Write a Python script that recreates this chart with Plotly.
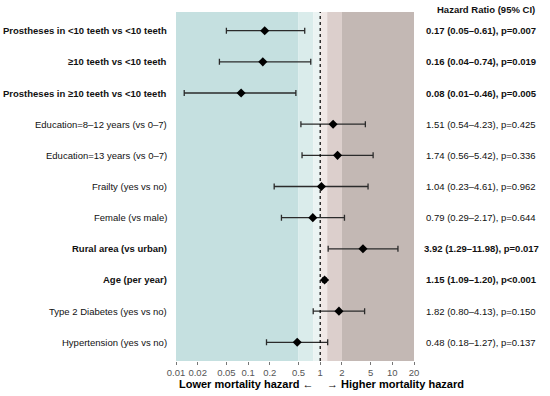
import math
import plotly.graph_objects as go

labels = [
    "Prostheses in <10 teeth vs <10 teeth",
    "≥10 teeth vs <10 teeth",
    "Prostheses in ≥10 teeth vs <10 teeth",
    "Education=8–12 years (vs 0–7)",
    "Education=13 years (vs 0–7)",
    "Frailty (yes vs no)",
    "Female (vs male)",
    "Rural area (vs urban)",
    "Age (per year)",
    "Type 2 Diabetes (yes vs no)",
    "Hypertension (yes vs no)",
]
hr = [0.17, 0.16, 0.08, 1.51, 1.74, 1.04, 0.79, 3.92, 1.15, 1.82, 0.48]
ci_low = [0.05, 0.04, 0.013, 0.54, 0.56, 0.23, 0.29, 1.29, 1.09, 0.80, 0.18]
ci_high = [0.61, 0.74, 0.46, 4.23, 5.42, 4.61, 2.17, 11.98, 1.20, 4.13, 1.27]
significant = [True, True, True, False, False, False, False, True, True, False, False]
hr_text = [
    "0.17 (0.05–0.61), p=0.007",
    "0.16 (0.04–0.74), p=0.019",
    "0.08 (0.01–0.46), p=0.005",
    "1.51 (0.54–4.23), p=0.425",
    "1.74 (0.56–5.42), p=0.336",
    "1.04 (0.23–4.61), p=0.962",
    "0.79 (0.29–2.17), p=0.644",
    "3.92 (1.29–11.98), p=0.017",
    "1.15 (1.09–1.20), p<0.001",
    "1.82 (0.80–4.13), p=0.150",
    "0.48 (0.18–1.27), p=0.137",
]
tick_vals = [0.01, 0.02, 0.05, 0.1, 0.2, 0.5, 1, 2, 5, 10, 20]
tick_text = ["0.01", "0.02", "0.05", "0.1", "0.2", "0.5", "1", "2", "5", "10", "20"]
band_edges = [0.01, 0.5, 0.8, 1, 1.25, 2, 20]
band_colors = ["#c5e0e0", "#daeceb", "#ebf4f3", "#f1e9e7", "#dccfcc", "#c3b8b4"]

rows = list(range(1, len(labels) + 1))
FONT = "Liberation Sans, Arial, sans-serif"

fig = go.Figure()
fig.add_trace(go.Scatter(
    x=hr, y=rows, mode="markers",
    marker=dict(symbol="diamond", size=7, color="black"),
    error_x=dict(type="data", symmetric=False,
                 array=[h - v for h, v in zip(ci_high, hr)],
                 arrayminus=[v - l for v, l in zip(hr, ci_low)],
                 color="#2b2b2b", thickness=1.3, width=3),
    showlegend=False, hoverinfo="skip",
))

shapes = []
for i, c in enumerate(band_colors):
    shapes.append(dict(type="rect", xref="x", yref="paper",
                       x0=band_edges[i], x1=band_edges[i + 1], y0=0, y1=1,
                       fillcolor=c, line=dict(width=0), layer="below"))
shapes.append(dict(type="line", xref="x", yref="paper", x0=1, x1=1, y0=0, y1=1,
                   line=dict(color="black", width=1.2, dash="dot")))

annotations = []
for r, lab, sig, t in zip(rows, labels, significant, hr_text):
    txt = f"<b>{lab}</b>" if sig else lab
    annotations.append(dict(xref="paper", yref="y", x=0, y=r, text=txt,
                            xanchor="right", yanchor="middle", xshift=-7,
                            showarrow=False, font=dict(family=FONT, size=9.5, color="#111")))
    ttxt = f"<b>{t}</b>" if sig else t
    annotations.append(dict(xref="paper", yref="y", x=1.283, y=r, text=ttxt,
                            xanchor="center", yanchor="middle",
                            showarrow=False, font=dict(family=FONT, size=9.5, color="#111")))
annotations.append(dict(xref="paper", yref="paper", x=1.304, y=1.006, text="<b>Hazard Ratio (95% CI)</b>",
                        xanchor="center", yanchor="middle", showarrow=False,
                        font=dict(family=FONT, size=9.5, color="#111")))
annotations.append(dict(xref="x", yref="paper", x=0, y=0, yshift=-23, xshift=-5,
                        text="<b>Lower mortality hazard ←</b>", xanchor="right", yanchor="middle",
                        showarrow=False, font=dict(family=FONT, size=11, color="black")))
annotations.append(dict(xref="x", yref="paper", x=0, y=0, yshift=-23, xshift=5,
                        text="<b>→ Higher mortality hazard</b>", xanchor="left", yanchor="middle",
                        showarrow=False, font=dict(family=FONT, size=11, color="black")))

fig.update_layout(
    width=550, height=396,
    margin=dict(l=176, r=135.5, t=12, b=35),
    paper_bgcolor="white", plot_bgcolor="white",
    shapes=shapes, annotations=annotations,
    xaxis=dict(type="log", range=[math.log10(0.01), math.log10(20)],
               tickvals=tick_vals, ticktext=tick_text, tickangle=0, automargin=False,
               ticks="outside", ticklen=3, tickcolor="#777", tickwidth=1,
               tickfont=dict(family=FONT, size=9.5, color="#555"),
               showgrid=False, zeroline=False, showline=False),
    yaxis=dict(range=[11.6, 0.4], showticklabels=False, ticks="", automargin=False,
               showgrid=False, zeroline=False, showline=False),
)
fig.write_html("out.html", config={"displayModeBar": False},
               post_script="document.body.style.margin='0';document.body.style.overflow='hidden';")
